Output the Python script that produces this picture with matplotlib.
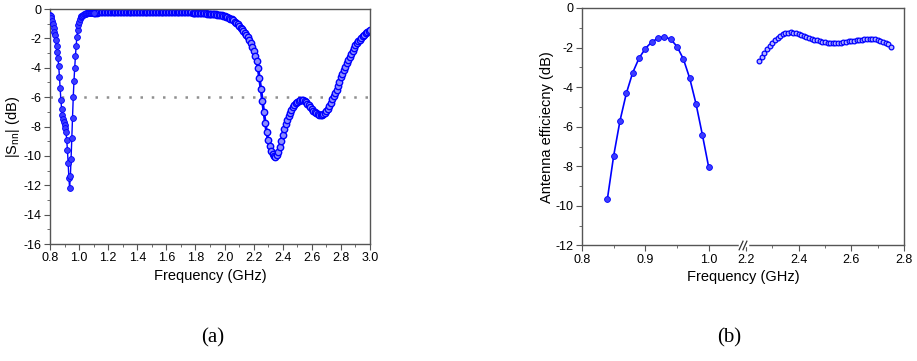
import numpy as np
import matplotlib
matplotlib.use("Agg")
import matplotlib.pyplot as plt
from matplotlib.ticker import MultipleLocator, FixedLocator

plt.rcParams['font.family'] = ['Liberation Sans', 'DejaVu Sans']

# ---- (a) |Snn| data ----
f_low = np.round(np.arange(0.800, 1.1001, 0.005), 3)
s_low = [-0.40, -0.50, -0.62, -0.80, -1.05, -1.30, -1.55, -1.80, -2.10, -2.50,
         -2.90, -3.35, -3.90, -4.60, -5.40, -6.20, -6.80, -7.20, -7.50, -7.70,
         -7.90, -8.10, -8.40, -8.90, -9.60, -10.50, -11.50, -12.20, -11.40, -10.20,
         -8.80, -7.40, -6.00, -4.90, -4.00, -3.20, -2.50, -1.90, -1.45, -1.10,
         -0.85, -0.68, -0.57, -0.50, -0.45, -0.41, -0.38, -0.35, -0.33, -0.31,
         -0.30, -0.29, -0.28, -0.28, -0.27, -0.27, -0.26, -0.26, -0.26, -0.26,
         -0.26]

f_wide = np.round(np.arange(1.10, 3.0001, 0.01), 2)
s_wide = [-0.26, -0.25, -0.24, -0.23, -0.23, -0.22, -0.22, -0.21, -0.21, -0.21,
          -0.20, -0.20, -0.20, -0.19, -0.19, -0.19, -0.19, -0.19, -0.19, -0.19,
          -0.19, -0.19, -0.19, -0.19, -0.19, -0.19, -0.19, -0.19, -0.19, -0.19,
          -0.19, -0.19, -0.19, -0.20, -0.20, -0.20, -0.20, -0.20, -0.20, -0.20,
          -0.20, -0.20, -0.20, -0.20, -0.20, -0.20, -0.20, -0.20, -0.20, -0.20,
          -0.20, -0.20, -0.20, -0.20, -0.21, -0.21, -0.21, -0.21, -0.21, -0.21,
          -0.21, -0.21, -0.22, -0.22, -0.22, -0.23, -0.23, -0.23, -0.24, -0.24,
          -0.25, -0.25, -0.26, -0.26, -0.27, -0.28, -0.29, -0.30, -0.31, -0.32,
          -0.33, -0.34, -0.35, -0.36, -0.37, -0.38, -0.40, -0.41, -0.43, -0.45,
          -0.48, -0.51, -0.55, -0.60, -0.65, -0.71, -0.78, -0.86, -0.94, -1.04,
          -1.15, -1.26, -1.37, -1.48, -1.60, -1.75, -1.92, -2.10, -2.32, -2.56,
          -2.85, -3.18, -3.55, -4.00, -4.70, -5.45, -6.25, -7.00, -7.75, -8.40,
          -8.95, -9.35, -9.65, -9.88, -10.02, -10.05, -9.95, -9.72, -9.38, -8.98,
          -8.58, -8.20, -7.86, -7.56, -7.30, -7.07, -6.87, -6.68, -6.52, -6.40,
          -6.30, -6.24, -6.20, -6.19, -6.21, -6.26, -6.34, -6.44, -6.56, -6.68,
          -6.80, -6.91, -7.00, -7.08, -7.14, -7.19, -7.22, -7.22, -7.18, -7.10,
          -6.97, -6.80, -6.60, -6.38, -6.15, -5.92, -5.75, -5.50, -5.22, -4.94,
          -4.66, -4.40, -4.15, -3.92, -3.70, -3.48, -3.27, -3.07, -2.88, -2.68,
          -2.48, -2.33, -2.20, -2.08, -1.96, -1.85, -1.75, -1.65, -1.56, -1.48,
          -1.42]
ref_level = -6

# ---- (b) efficiency data ----
f_eff1 = np.round(np.arange(0.84, 1.0001, 0.01), 2)
eff1 = [-9.66, -7.46, -5.69, -4.31, -3.27, -2.54, -2.05, -1.72, -1.53, -1.46,
        -1.58, -1.95, -2.58, -3.55, -4.85, -6.41, -8.05]

f_eff2 = np.round(np.arange(2.25, 2.7501, 0.01), 2)
eff2 = [-2.70, -2.47, -2.27, -2.08, -1.91, -1.76, -1.62, -1.50, -1.40, -1.32,
        -1.27, -1.25, -1.24, -1.25, -1.27, -1.30, -1.35, -1.40, -1.45, -1.50,
        -1.55, -1.60, -1.64, -1.68, -1.71, -1.74, -1.76, -1.78, -1.79, -1.78,
        -1.77, -1.75, -1.73, -1.71, -1.69, -1.67, -1.65, -1.63, -1.61, -1.60,
        -1.59, -1.58, -1.58, -1.58, -1.59, -1.61, -1.65, -1.70, -1.76, -1.84,
        -1.95]

blue = '#0000ff'
spine_c = '#555555'

fig = plt.figure(figsize=(9.17, 3.61), dpi=100)
ax1 = fig.add_axes([0.0545, 0.324, 0.349, 0.651])
ax2 = fig.add_axes([0.6347, 0.320, 0.3511, 0.658])


def style(ax):
    for s in ax.spines.values():
        s.set_color(spine_c)
        s.set_linewidth(1.0)
    ax.tick_params(which='both', direction='out', top=False, right=False,
                   color=spine_c, labelsize=9, pad=2)
    ax.tick_params(which='major', length=4)
    ax.tick_params(which='minor', length=2)


# panel (a)
ax1.axhline(ref_level, color='#909090', lw=1.8, ls=(0, (1, 3.5)), zorder=1)
ax1.plot(f_wide, s_wide, '-', color=blue, lw=2.0, marker='o', ms=4.6,
         mfc='#8c8cff', mec=blue, mew=1.0, zorder=2)
ax1.plot(f_low, s_low, '-', color=blue, lw=1.0, marker='o', ms=4.2,
         mfc='#3c3cff', mec=blue, mew=0.6, zorder=3)
ax1.set_xlim(0.8, 3.0)
ax1.set_ylim(-16, 0)
ax1.xaxis.set_major_locator(MultipleLocator(0.2))
ax1.xaxis.set_minor_locator(MultipleLocator(0.1))
ax1.yaxis.set_major_locator(MultipleLocator(2))
ax1.yaxis.set_minor_locator(MultipleLocator(1))
ax1.xaxis.set_major_formatter(plt.FuncFormatter(lambda v, p: f"{v:.1f}"))
ax1.yaxis.set_major_formatter(plt.FuncFormatter(lambda v, p: f"{v:.0f}"))
ax1.set_xlabel("Frequency (GHz)", fontsize=10.5, labelpad=3)
ax1.set_ylabel("|S$_{\\mathregular{nn}}$| (dB)", fontsize=10.5, labelpad=1)
style(ax1)

# panel (b): broken frequency axis through a piecewise-linear scale
brk_lo, brk_hi = 1.053, 2.2
p_lo, p_hi = 0.498, 0.509
k1 = 0.3935 / 0.2
k2 = (1 - p_hi) / 0.6


def fwd(x):
    x = np.asarray(x, dtype=float)
    return np.where(x <= brk_lo, (x - 0.8) * k1,
                    np.where(x >= brk_hi, p_hi + (x - brk_hi) * k2,
                             p_lo + (x - brk_lo) * (p_hi - p_lo) / (brk_hi - brk_lo)))


def inv(u):
    u = np.asarray(u, dtype=float)
    return np.where(u <= p_lo, 0.8 + u / k1,
                    np.where(u >= p_hi, brk_hi + (u - p_hi) / k2,
                             brk_lo + (u - p_lo) * (brk_hi - brk_lo) / (p_hi - p_lo)))


ax2.set_xscale('function', functions=(fwd, inv))
ax2.plot(f_eff1, eff1, '-', color=blue, lw=1.2, marker='o', ms=4.2,
         mfc='#3c3cff', mec=blue, mew=0.6)
ax2.plot(f_eff2, eff2, 'none', marker='o', ms=3.4, mfc='#b4b4ff', mec=blue,
         mew=0.9)
ax2.set_xlim(0.8, 2.8)
ax2.set_ylim(-12, 0)
ax2.xaxis.set_major_locator(FixedLocator([0.8, 0.9, 1.0, 2.2, 2.4, 2.6, 2.8]))
ax2.xaxis.set_minor_locator(FixedLocator([0.85, 0.95, 2.3, 2.5, 2.7]))
ax2.xaxis.set_major_formatter(plt.FuncFormatter(lambda v, p: f"{v:.1f}"))
ax2.yaxis.set_major_locator(MultipleLocator(2))
ax2.yaxis.set_minor_locator(MultipleLocator(1))
ax2.yaxis.set_major_formatter(plt.FuncFormatter(lambda v, p: f"{v:.0f}"))
ax2.set_xlabel("Frequency (GHz)", fontsize=10.5, labelpad=3)
ax2.set_ylabel("Antenna efficiecny (dB)", fontsize=10.5, labelpad=1)
style(ax2)

# break marks on the bottom axis
bx = 0.494
ax2.plot([bx - 0.004, bx + 0.018], [0, 0], color='white', lw=2.5,
         transform=ax2.transAxes, clip_on=False, zorder=5)
for dx in (0.0, 0.012):
    ax2.plot([bx + dx - 0.006, bx + dx + 0.006], [-0.018, 0.018], color='#333333',
             lw=0.9, transform=ax2.transAxes, clip_on=False, zorder=6)

fig.text(0.232, 0.05, "(a)", fontsize=15, family='Liberation Serif', ha='center')
fig.text(0.795, 0.05, "(b)", fontsize=15, family='Liberation Serif', ha='center')

fig.savefig("out.png", dpi=100)
